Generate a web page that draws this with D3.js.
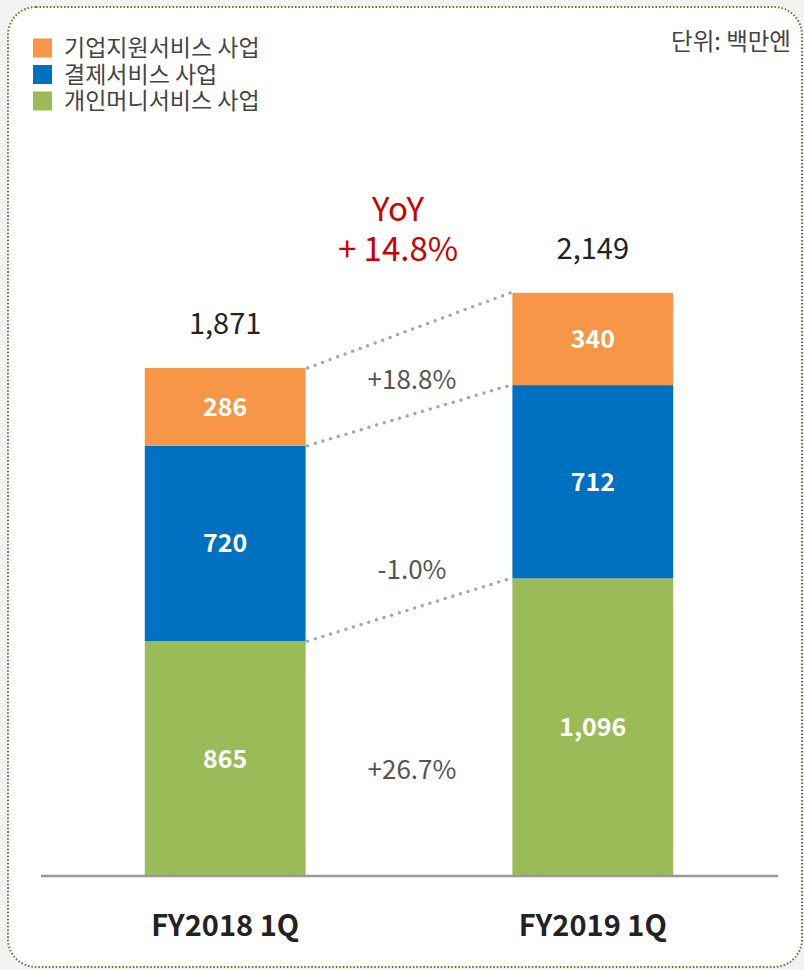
<!DOCTYPE html>
<html>
<head>
<meta charset="utf-8">
<script src="https://cdn.jsdelivr.net/npm/d3@7"></script>
<style>
  html, body { margin: 0; padding: 0; background: #f2f2f2; }
  svg { display: block; font-family: "Noto Sans CJK KR", "Noto Sans", sans-serif; }
</style>
</head>
<body>
<svg id="chart"></svg>
<script>
const periods = ["FY2018 1Q", "FY2019 1Q"]
const segments = ["개인머니서비스 사업", "결제서비스 사업", "기업지원서비스 사업"]
const personal = [865, 1096]
const payment = [720, 712]
const corporate = [286, 340]
const totals = ["1,871", "2,149"]
const growth = ["+26.7%", "-1.0%", "+18.8%"]
const yoy = ["YoY", "+ 14.8%"]
const colors = ["#9bbb59", "#0070c0", "#f79646"]

const width = 804, height = 970
const svg = d3.select('#chart').attr('width', width).attr('height', height)

// dotted frame
svg.append('rect')
    .attr('x', 8).attr('y', 7)
    .attr('width', 794).attr('height', 960)
    .attr('rx', 28)
    .attr('fill', 'white')
    .attr('stroke', '#5f7a2a')
    .attr('stroke-width', 2)
    .attr('stroke-dasharray', '1.5 2')

const baseY = 876
const y = d3.scaleLinear().domain([0, 1871]).range([baseY, 368])
const x = d3.scaleBand().domain(periods).range([40, 778]).paddingInner(0.5625).paddingOuter(0.285)

const table = periods.map((p, i) => ({ period: p, s0: personal[i], s1: payment[i], s2: corporate[i] }))
const stacked = d3.stack().keys(["s0", "s1", "s2"])(table)

svg.append('g').selectAll('g')
    .data(stacked)
    .join('g')
    .attr('fill', (d, i) => colors[i])
    .selectAll('rect')
    .data(d => d)
    .join('rect')
    .attr('x', d => x(d.data.period))
    .attr('y', d => y(d[1]))
    .attr('width', x.bandwidth())
    .attr('height', d => y(d[0]) - y(d[1]))

// value labels inside bars
stacked.forEach(layer => {
    svg.append('g').selectAll('text')
        .data(layer)
        .join('text')
        .attr('x', d => x(d.data.period) + x.bandwidth() / 2)
        .attr('y', d => (y(d[0]) + y(d[1])) / 2)
        .attr('dy', '0.36em')
        .attr('text-anchor', 'middle')
        .attr('fill', 'white')
        .attr('font-weight', 'bold')
        .attr('font-size', 25)
        .text(d => d3.format(',')(d.data[layer.key]))
})

// connector dotted lines
stacked.forEach(layer => {
    const a = layer[0], b = layer[1]
    svg.append('line')
        .attr('x1', x(a.data.period) + x.bandwidth() + 2)
        .attr('y1', y(a[1]))
        .attr('x2', x(b.data.period) - 2)
        .attr('y2', y(b[1]))
        .attr('stroke', '#a6a6a6')
        .attr('stroke-width', 3.5)
        .attr('stroke-linecap', 'round')
        .attr('stroke-dasharray', '0 8')
})

// growth labels
const growthY = [770, 570, 380]
growth.forEach((g, i) => {
    svg.append('text')
        .attr('x', 412).attr('y', growthY[i])
        .attr('dy', '0.36em')
        .attr('text-anchor', 'middle')
        .attr('fill', '#555')
        .attr('font-size', 26)
        .text(g)
})

// totals
svg.append('g').selectAll('text')
    .data(stacked[2])
    .join('text')
    .attr('x', d => x(d.data.period) + x.bandwidth() / 2)
    .attr('y', d => y(d[1]) - 44)
    .attr('dy', '0.36em')
    .attr('text-anchor', 'middle')
    .attr('fill', '#222')
    .attr('font-size', 29)
    .text((d, i) => totals[i])

// YoY
yoy.forEach((t, i) => {
    svg.append('text')
        .attr('x', 398).attr('y', 209 + i * 40)
        .attr('dy', '0.36em')
        .attr('text-anchor', 'middle')
        .attr('fill', '#cc0000')
        .attr('font-size', 33)
        .text(t)
})

// axis
const axis = svg.append('g').attr('transform', `translate(0,${baseY})`)
    .call(d3.axisBottom(x).tickSize(0).tickPadding(39))
axis.select('.domain').attr('stroke', '#999').attr('stroke-width', 2.5)
    .attr('d', 'M41,0H778')
axis.selectAll('text')
    .attr('font-size', 29)
    .attr('font-weight', 'bold')
    .attr('fill', '#222')
    .attr('font-family', '"Noto Sans CJK KR", "Noto Sans", sans-serif')

// legend
const legendItems = [segments[2], segments[1], segments[0]]
const legendColors = [colors[2], colors[1], colors[0]]
const legend = svg.append('g').selectAll('g')
    .data(legendItems)
    .join('g')
    .attr('transform', (d, i) => `translate(33,${48 + i * 26.5})`)
legend.append('rect')
    .attr('x', 0).attr('y', -9.5)
    .attr('width', 19).attr('height', 19)
    .attr('fill', (d, i) => legendColors[i])
legend.append('text')
    .attr('x', 31).attr('dy', '0.36em')
    .attr('font-size', 23)
    .attr('fill', '#444')
    .text(d => d)

svg.append('text')
    .attr('x', 791).attr('y', 42)
    .attr('dy', '0.36em')
    .attr('text-anchor', 'end')
    .attr('font-size', 23.5)
    .attr('fill', '#444')
    .text('단위: 백만엔')
</script>
</body>
</html>
